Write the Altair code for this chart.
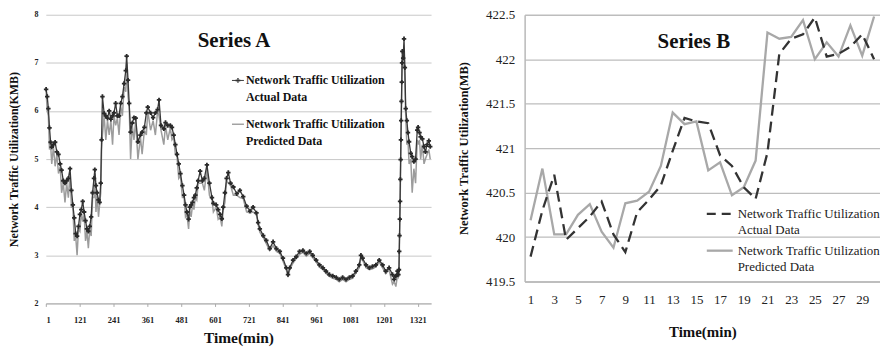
import altair as alt
import pandas as pd

SERIF = "Liberation Serif"

# ---------------- Series A (left panel) ----------------
a_time = [1, 5, 9, 13, 17, 21, 27, 33, 39, 45, 51, 56, 62, 68, 74, 80, 86, 91, 96, 101,
          106, 111, 116, 121, 126, 131, 136, 141, 146, 151, 156, 161, 166, 171, 174, 178, 182, 187, 191, 195,
          198, 201, 207, 213, 219, 225, 231, 237, 242, 248, 254, 260, 266, 272, 278, 284, 287, 292, 296, 301,
          307, 313, 319, 327, 336, 342, 350, 357, 362, 372, 381, 389, 397, 402, 409, 419, 425, 433, 442, 448,
          454, 460, 466, 472, 478, 485, 491, 496, 501, 507, 511, 516, 521, 526, 531, 536, 541, 548, 556, 563,
          572, 581, 590, 595, 605, 612, 619, 625, 630, 636, 642, 648, 656, 666, 678, 689, 701, 713, 725, 736,
          748, 754, 760, 772, 783, 795, 807, 819, 831, 842, 854, 860, 866, 878, 889, 901, 913, 925, 937, 948,
          960, 972, 984, 995, 1007, 1019, 1031, 1042, 1054, 1066, 1078, 1089, 1101, 1113, 1119, 1125, 1137, 1149, 1160, 1172,
          1184, 1196, 1207, 1219, 1231, 1237, 1243, 1249, 1252, 1254, 1255, 1256, 1257, 1258, 1259, 1260, 1261, 1262, 1263, 1264,
          1265, 1266, 1269, 1272, 1275, 1278, 1282, 1286, 1290, 1296, 1301, 1307, 1313, 1319, 1322, 1327, 1331, 1337, 1343, 1348,
          1354, 1360, 1365]
a_actual = [6.45, 6.3, 6.05, 5.65, 5.35, 5.25, 5.3, 5.35, 5.15, 5.1, 4.9, 4.77, 4.55, 4.5, 4.55, 4.6, 4.8, 4.35, 4.05, 3.78,
            3.45, 3.4, 3.6, 3.85, 3.95, 4.12, 3.9, 3.72, 3.55, 3.5, 3.6, 3.8, 4.3, 4.6, 4.78, 4.45, 4.3, 4.15, 4.1, 4.5,
            5.4, 6.3, 5.95, 5.9, 5.85, 6.0, 5.83, 5.9, 5.96, 6.16, 5.9, 5.9, 6.16, 6.3, 6.57, 6.84, 7.14, 6.64, 6.16, 5.56,
            5.75, 5.86, 5.85, 5.36, 5.5, 5.56, 5.66, 5.96, 6.08, 5.96, 5.86, 5.96, 6.03, 6.23, 5.7, 5.63, 5.76, 5.7, 5.7, 5.66,
            5.5, 5.3, 5.1, 4.9, 4.7, 4.45, 4.25, 4.05, 3.9, 3.75, 4.0, 4.05, 4.1, 4.2, 4.25, 4.4, 4.55, 4.75, 4.55, 4.6,
            4.88, 4.5, 4.2, 4.08, 4.05, 3.95, 3.85, 3.76, 4.0, 4.3, 4.6, 4.72, 4.5, 4.42, 4.28, 4.35, 4.22, 4.02, 3.92, 4.0,
            3.88, 3.68, 3.55, 3.41, 3.31, 3.14, 3.28, 3.14, 3.08, 2.94, 2.74, 2.6, 2.74, 2.9, 2.97, 3.08, 3.1, 3.04, 3.08, 3.0,
            2.9, 2.8, 2.74, 2.67, 2.6, 2.57, 2.54, 2.5, 2.54, 2.5, 2.54, 2.57, 2.67, 2.8, 3.0, 2.94, 2.8, 2.74, 2.77, 2.8,
            2.9, 2.8, 2.67, 2.74, 2.6, 2.5, 2.57, 2.67, 2.6, 2.7, 3.08, 3.41, 3.75, 4.12, 4.58, 4.99, 5.4, 5.8, 6.2, 6.6,
            7.0, 7.24, 7.1, 7.5, 6.9, 6.05, 5.8, 5.55, 5.36, 5.12, 5.05, 4.95, 5.0, 5.6, 5.66, 5.55, 5.46, 5.42, 5.26, 5.15,
            5.3, 5.38, 5.26]

p_time = [1, 5, 9, 13, 17, 21, 27, 33, 39, 45, 51, 56, 62, 68, 74, 80, 86, 91, 96, 101,
          106, 111, 116, 121, 126, 131, 136, 141, 146, 151, 156, 161, 166, 171, 174, 178, 182, 187, 191, 195,
          198, 201, 207, 213, 219, 225, 231, 237, 242, 248, 254, 260, 266, 272, 278, 284, 287, 292, 296, 301,
          307, 313, 319, 327, 336, 342, 350, 357, 362, 372, 381, 389, 397, 402, 409, 419, 425, 433, 442, 448,
          454, 460, 466, 472, 478, 485, 491, 496, 501, 507, 511, 516, 521, 526, 531, 536, 541, 548, 556, 563,
          572, 581, 590, 595, 605, 612, 619, 625, 630, 636, 642, 648, 656, 666, 678, 689, 701, 713, 725, 736,
          748, 754, 760, 772, 783, 795, 807, 819, 831, 842, 854, 860, 866, 878, 889, 901, 913, 925, 937, 948,
          960, 972, 984, 995, 1007, 1019, 1031, 1042, 1054, 1066, 1078, 1089, 1101, 1113, 1119, 1125, 1137, 1149, 1160, 1172,
          1184, 1196, 1207, 1219, 1231, 1237, 1243, 1249, 1252, 1254, 1256, 1258, 1260, 1262, 1264, 1266, 1269, 1272, 1275, 1278,
          1282, 1286, 1290, 1296, 1301, 1307, 1313, 1319, 1322, 1327, 1331, 1337, 1343, 1348, 1354, 1360, 1365]
p_pred = [6.4, 6.0, 5.9, 5.2, 5.3, 4.9, 5.25, 4.85, 5.1, 4.7, 4.85, 4.3, 4.5, 4.1, 4.5, 4.2, 4.7, 4.0, 4.0, 3.3,
          3.4, 3.0, 3.55, 3.5, 3.9, 3.7, 3.85, 3.3, 3.5, 3.15, 3.55, 3.4, 4.2, 4.2, 4.7, 3.9, 4.25, 3.8, 4.05, 4.3,
          5.2, 5.5, 5.9, 5.4, 5.8, 5.5, 5.8, 5.3, 5.9, 5.7, 5.85, 5.5, 6.1, 5.9, 6.5, 6.4, 7.0, 6.3, 6.1, 5.0,
          5.7, 5.4, 5.8, 5.0, 5.45, 5.1, 5.6, 5.5, 6.0, 5.6, 5.8, 5.5, 6.0, 5.9, 5.6, 5.3, 5.7, 5.4, 5.65, 5.4,
          5.45, 5.1, 5.05, 4.6, 4.65, 4.2, 4.2, 3.8, 3.85, 3.55, 3.95, 3.8, 4.05, 3.95, 4.2, 4.15, 4.5, 4.5, 4.5, 4.35,
          4.8, 4.25, 4.15, 3.9, 4.0, 3.75, 3.8, 3.6, 3.95, 4.1, 4.55, 4.5, 4.45, 4.25, 4.25, 4.2, 4.18, 3.9, 3.88, 3.9,
          3.84, 3.64, 3.48, 3.37, 3.24, 3.1, 3.2, 3.08, 3.04, 2.88, 2.7, 2.55, 2.7, 2.84, 2.93, 3.02, 3.06, 2.98, 3.04, 2.95,
          2.86, 2.75, 2.7, 2.62, 2.56, 2.52, 2.5, 2.45, 2.5, 2.45, 2.5, 2.52, 2.63, 2.74, 2.96, 2.9, 2.74, 2.7, 2.72, 2.76,
          2.86, 2.74, 2.62, 2.7, 2.4, 2.45, 2.35, 2.6, 2.55, 2.6, 3.3, 4.0, 4.9, 5.7, 6.5, 7.1, 6.9, 7.3, 6.6, 5.9,
          5.3, 5.4, 4.9, 5.0, 4.3, 4.8, 4.5, 5.4, 5.3, 5.4, 5.0, 5.3, 4.9, 5.0, 5.1, 5.2, 5.0]

a_x_ticks = [1, 121, 241, 361, 481, 601, 721, 841, 961, 1081, 1201, 1321]
a_y_ticks = [2, 3, 4, 5, 6, 7, 8]

# ---------------- Series B (right panel) ----------------
b_time = list(range(1, 31))
b_actual = [419.78, 420.3, 420.7, 419.97, 420.1, 420.23, 420.4, 420.03, 419.83, 420.28,
            420.42, 420.58, 420.97, 421.34, 421.3, 421.28, 420.92, 420.8, 420.56, 420.43,
            420.95, 422.06, 422.23, 422.28, 422.47, 422.03, 422.06, 422.14, 422.28, 422.0]
b_pred = [420.19, 420.77, 420.03, 420.03, 420.25, 420.37, 420.06, 419.88, 420.38, 420.41,
          420.51, 420.8, 421.4, 421.27, 421.3, 420.75, 420.84, 420.47, 420.56, 420.86,
          422.3, 422.23, 422.25, 422.44, 422.0, 422.19, 422.03, 422.38, 422.04, 422.48]
b_x_ticks = [1, 3, 5, 7, 9, 11, 13, 15, 17, 19, 21, 23, 25, 27, 29]
b_y_ticks = [419.5, 420, 420.5, 421, 421.5, 422, 422.5]

legend_actual = "Network Traffic Utilization\nActual Data"
legend_pred = "Network Traffic Utilization\nPredicted Data"
y_title_a = "Network Traffic Utilization(KMB)"
y_title_b = "Network Traffic Utilization(MB)"
x_title = "Time(min)"

# ---------------- left panel ----------------
dfA = pd.DataFrame({"t": a_time, "v": a_actual})
dfP = pd.DataFrame({"t": p_time, "v": p_pred})

xA = alt.X("t:Q", scale=alt.Scale(domain=[0, 1368], nice=False, zero=False),
           axis=alt.Axis(values=a_x_ticks, format="d", labelOverlap=False, title=x_title, grid=False,
                         tickSize=3, tickColor="#aaaaaa", domainColor="#aaaaaa", labelFontSize=8.5,
                         labelFontWeight="bold", labelPadding=9, titleFontSize=15.5,
                         titlePadding=7, labelColor="#222"))
yA = alt.Y("v:Q", scale=alt.Scale(domain=[2, 8], nice=False, zero=False),
           axis=alt.Axis(values=a_y_ticks, title=y_title_a, grid=True, gridColor="#c8c8c8",
                         domain=False, ticks=False, labelFontSize=8, labelFontWeight="bold",
                         labelPadding=8, titleFontSize=12, titlePadding=13, labelColor="#222"))

pred_line = alt.Chart(dfP).mark_line(color="#9c9c9c", strokeWidth=1.5).encode(x=xA, y=yA)
act_line = alt.Chart(dfA).mark_line(
    color="#383838", strokeWidth=1.3,
    point=alt.OverlayMarkDef(shape="cross", size=20, color="#2a2a2a", filled=True)
).encode(x=xA, y=yA)

one = pd.DataFrame({"k": [0]})
title_a = alt.Chart(one).mark_text(font=SERIF, fontWeight="bold", fontSize=21, color="#111").encode(
    x=alt.value(189), y=alt.value(26), text=alt.value("Series A"))
legA_rule1 = alt.Chart(one).mark_rule(color="#3a3a3a", strokeWidth=1).encode(
    x=alt.value(187), x2=alt.value(199), y=alt.value(66))
legA_pt1 = alt.Chart(one).mark_point(shape="cross", size=22, filled=True, color="#2c2c2c").encode(
    x=alt.value(193), y=alt.value(66))
legA_rule2 = alt.Chart(one).mark_rule(color="#9c9c9c", strokeWidth=1.4).encode(
    x=alt.value(187), x2=alt.value(199), y=alt.value(110))
legA_txt1 = alt.Chart(one).mark_text(font=SERIF, fontWeight="bold", fontSize=12, align="left",
                                     lineBreak="\n", lineHeight=17, baseline="middle", color="#111").encode(
    x=alt.value(201), y=alt.value(66), text=alt.value(legend_actual))
legA_txt2 = alt.Chart(one).mark_text(font=SERIF, fontWeight="bold", fontSize=12, align="left",
                                     lineBreak="\n", lineHeight=17, baseline="middle", color="#111").encode(
    x=alt.value(201), y=alt.value(110), text=alt.value(legend_pred))

left = alt.layer(pred_line, act_line, title_a, legA_rule1, legA_pt1, legA_rule2, legA_txt1, legA_txt2).properties(
    width=387, height=290)

# ---------------- right panel ----------------
dfB = pd.DataFrame({"t": b_time, "actual": b_actual, "pred": b_pred})

xB = alt.X("t:Q", scale=alt.Scale(domain=[0.5, 30.5], nice=False, zero=False),
           axis=alt.Axis(values=b_x_ticks, labelOverlap=False, title=x_title, grid=False, ticks=False,
                         domainColor="#b8b8b8", domainWidth=1.5, labelFontSize=13, labelPadding=12,
                         titleFontSize=15, titlePadding=18, labelColor="#222"))
yAxisB = alt.Axis(values=b_y_ticks, format="~f", title=y_title_b, grid=True, gridColor="#bdbdbd",
                  gridWidth=1.3, domain=True, domainColor="#b8b8b8", domainWidth=1.5, ticks=False,
                  labelFontSize=13, labelPadding=10, titleFontSize=12.5, titlePadding=15,
                  labelColor="#222")
yScaleB = alt.Scale(domain=[419.5, 422.5], nice=False, zero=False)

b_pred_line = alt.Chart(dfB).mark_line(color="#a8a8a8", strokeWidth=2.3).encode(
    x=xB, y=alt.Y("pred:Q", scale=yScaleB, axis=yAxisB))
b_act_line = alt.Chart(dfB).mark_line(color="#333333", strokeWidth=2.3, strokeDash=[11, 6]).encode(
    x=xB, y=alt.Y("actual:Q", scale=yScaleB, axis=yAxisB))

title_b = alt.Chart(one).mark_text(font=SERIF, fontWeight="bold", fontSize=21, color="#111").encode(
    x=alt.value(170), y=alt.value(27), text=alt.value("Series B"))
legB_rule1 = alt.Chart(one).mark_rule(color="#333333", strokeWidth=2.3, strokeDash=[9, 6]).encode(
    x=alt.value(183), x2=alt.value(209), y=alt.value(200))
legB_rule2 = alt.Chart(one).mark_rule(color="#a8a8a8", strokeWidth=2.3).encode(
    x=alt.value(183), x2=alt.value(209), y=alt.value(237))
legB_txt1 = alt.Chart(one).mark_text(font=SERIF, fontSize=13, align="left", lineBreak="\n", lineHeight=16,
                                     baseline="middle", color="#222").encode(
    x=alt.value(214), y=alt.value(200), text=alt.value(legend_actual))
legB_txt2 = alt.Chart(one).mark_text(font=SERIF, fontSize=13, align="left", lineBreak="\n", lineHeight=16,
                                     baseline="middle", color="#222").encode(
    x=alt.value(214), y=alt.value(237), text=alt.value(legend_pred))

right = alt.layer(b_pred_line, b_act_line, title_b, legB_rule1, legB_rule2, legB_txt1, legB_txt2).properties(
    width=357, height=268)

chart = alt.hconcat(left, right, spacing=23, padding={"left": 0, "top": 0, "right": 0, "bottom": 0}).configure_view(
    stroke=None).configure_axis(labelFont=SERIF, titleFont=SERIF, titleFontWeight="bold", titleColor="#111",
                                labelOverlap=False)

chart.save("out.html", embed_options={"renderer": "svg", "actions": False})
